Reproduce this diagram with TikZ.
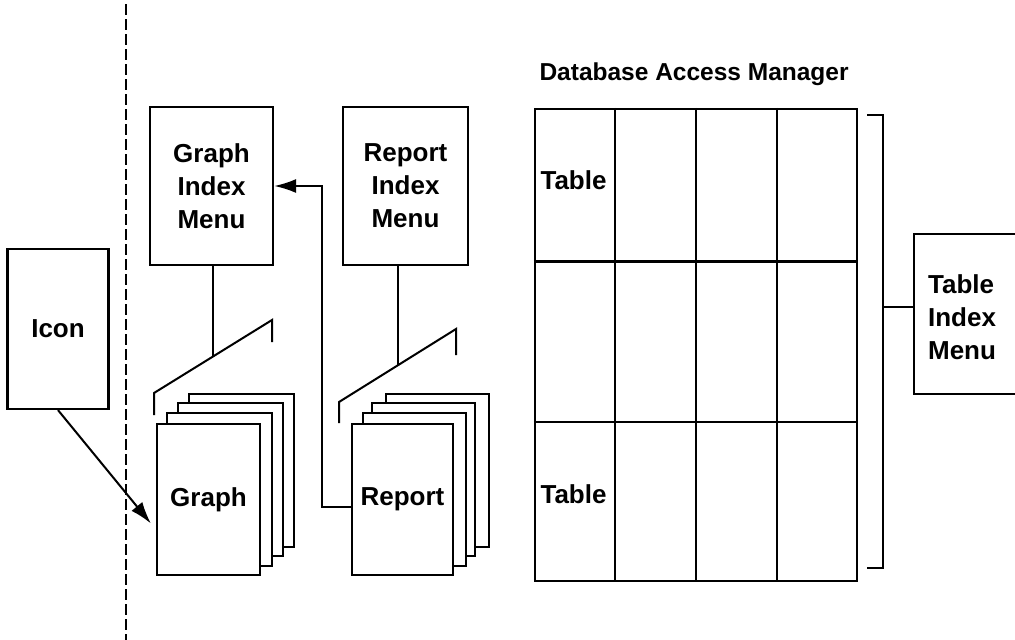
\documentclass[tikz,border=0pt]{standalone}
\usepackage{fontspec}
\setmainfont{Liberation Sans}
\usetikzlibrary{arrows.meta,positioning,backgrounds,calc}

\tikzset{
  box/.style={draw,line width=2.2pt,fill=white,align=center,
    font=\fontsize{26}{33}\selectfont\bfseries},
  page/.style={draw,line width=1.9pt,fill=white},
  link/.style={line width=2pt},
  arr/.style={link,-{Latex[length=22pt,width=14pt]}},
  lbl/.style={font=\fontsize{26}{33}\selectfont\bfseries},
}

\begin{document}
\begin{tikzpicture}[x=1pt,y=-1pt]
\useasboundingbox (0,0) rectangle (1015,640);
\clip (0,0) rectangle (1015,640);
\draw[line width=1.4pt,dash pattern=on 11pt off 4pt] (126,4) -- (126,640);
% menus and icon
\node[box,minimum width=101pt,minimum height=160pt] (icon) at (58,329) {Icon};
\node[box,minimum width=123pt,minimum height=158pt] (gmenu) at (211.5,186) {Graph\\Index\\Menu};
\node[box,minimum width=125pt,minimum height=158pt] (rmenu) at (405.5,186) {Report\\Index\\Menu};
% page stacks
\node[box,minimum width=103pt,minimum height=151pt] (graph) at (208.5,499.5) {Graph};
\node[box,minimum width=101pt,minimum height=151pt] (rpt) at (402.5,499.5) {Report};
\begin{scope}[on background layer]
\foreach \s/\dx/\dy in {graph/33/29,graph/22/20,graph/11/10,rpt/35/29,rpt/21/20,rpt/12/10}
  \draw[page] ([shift={(\dx,-\dy)}]\s.south west) rectangle ([shift={(\dx,-\dy)}]\s.north east);
\end{scope}
\draw[link] (154,415) -- (154,393) -- coordinate[pos=0.5] (gmid) (272,320) -- (272,342);
\draw[link] (339,423) -- (339,402) -- coordinate[pos=0.5] (rmid) (456,329) -- (456,355);
\draw[link] (gmenu.south -| gmid) -- (gmid);
\draw[link] (rmenu.south -| rmid) -- (rmid);
\draw[arr] ([yshift=-7pt]rpt.west) -- ++(-29,0) |- (gmenu.east);
\draw[arr] (icon.south) -- ([shift={(-5,24)}]graph.west);
% database access manager
\node[lbl,font=\fontsize{24.5}{30}\selectfont\bfseries,anchor=base west] (title) at (536,80) {Database Access Manager};
\node[draw,line width=2.2pt,minimum width=322pt,minimum height=472pt] (dam) at (696,345) {};
\foreach \f in {0.25,0.5,0.75}
  \draw[line width=2pt] ($(dam.north west)!\f!(dam.north east)$) -- ($(dam.south west)!\f!(dam.south east)$);
\foreach \f in {0.324,0.663}
  \draw[line width=2.2pt] ($(dam.north west)!\f!(dam.south west)$) -- ($(dam.north east)!\f!(dam.south east)$);
\node[lbl,anchor=west] (tab1) at (537,180) {Table};
\node[lbl,anchor=west] (tab2) at (537,494) {Table};
\node[box,anchor=north west,minimum height=160pt,text width=102pt,inner xsep=14pt,align=left,text depth=60pt] (tim) at (913,233) {Table\\Index\\Menu};
\draw[link] (867,115) -- (883,115) -- coordinate[pos=0.424] (bk) (883,568) -- (867,568);
\draw[link] (bk) -- (bk -| tim.west);
\end{tikzpicture}
\end{document}
